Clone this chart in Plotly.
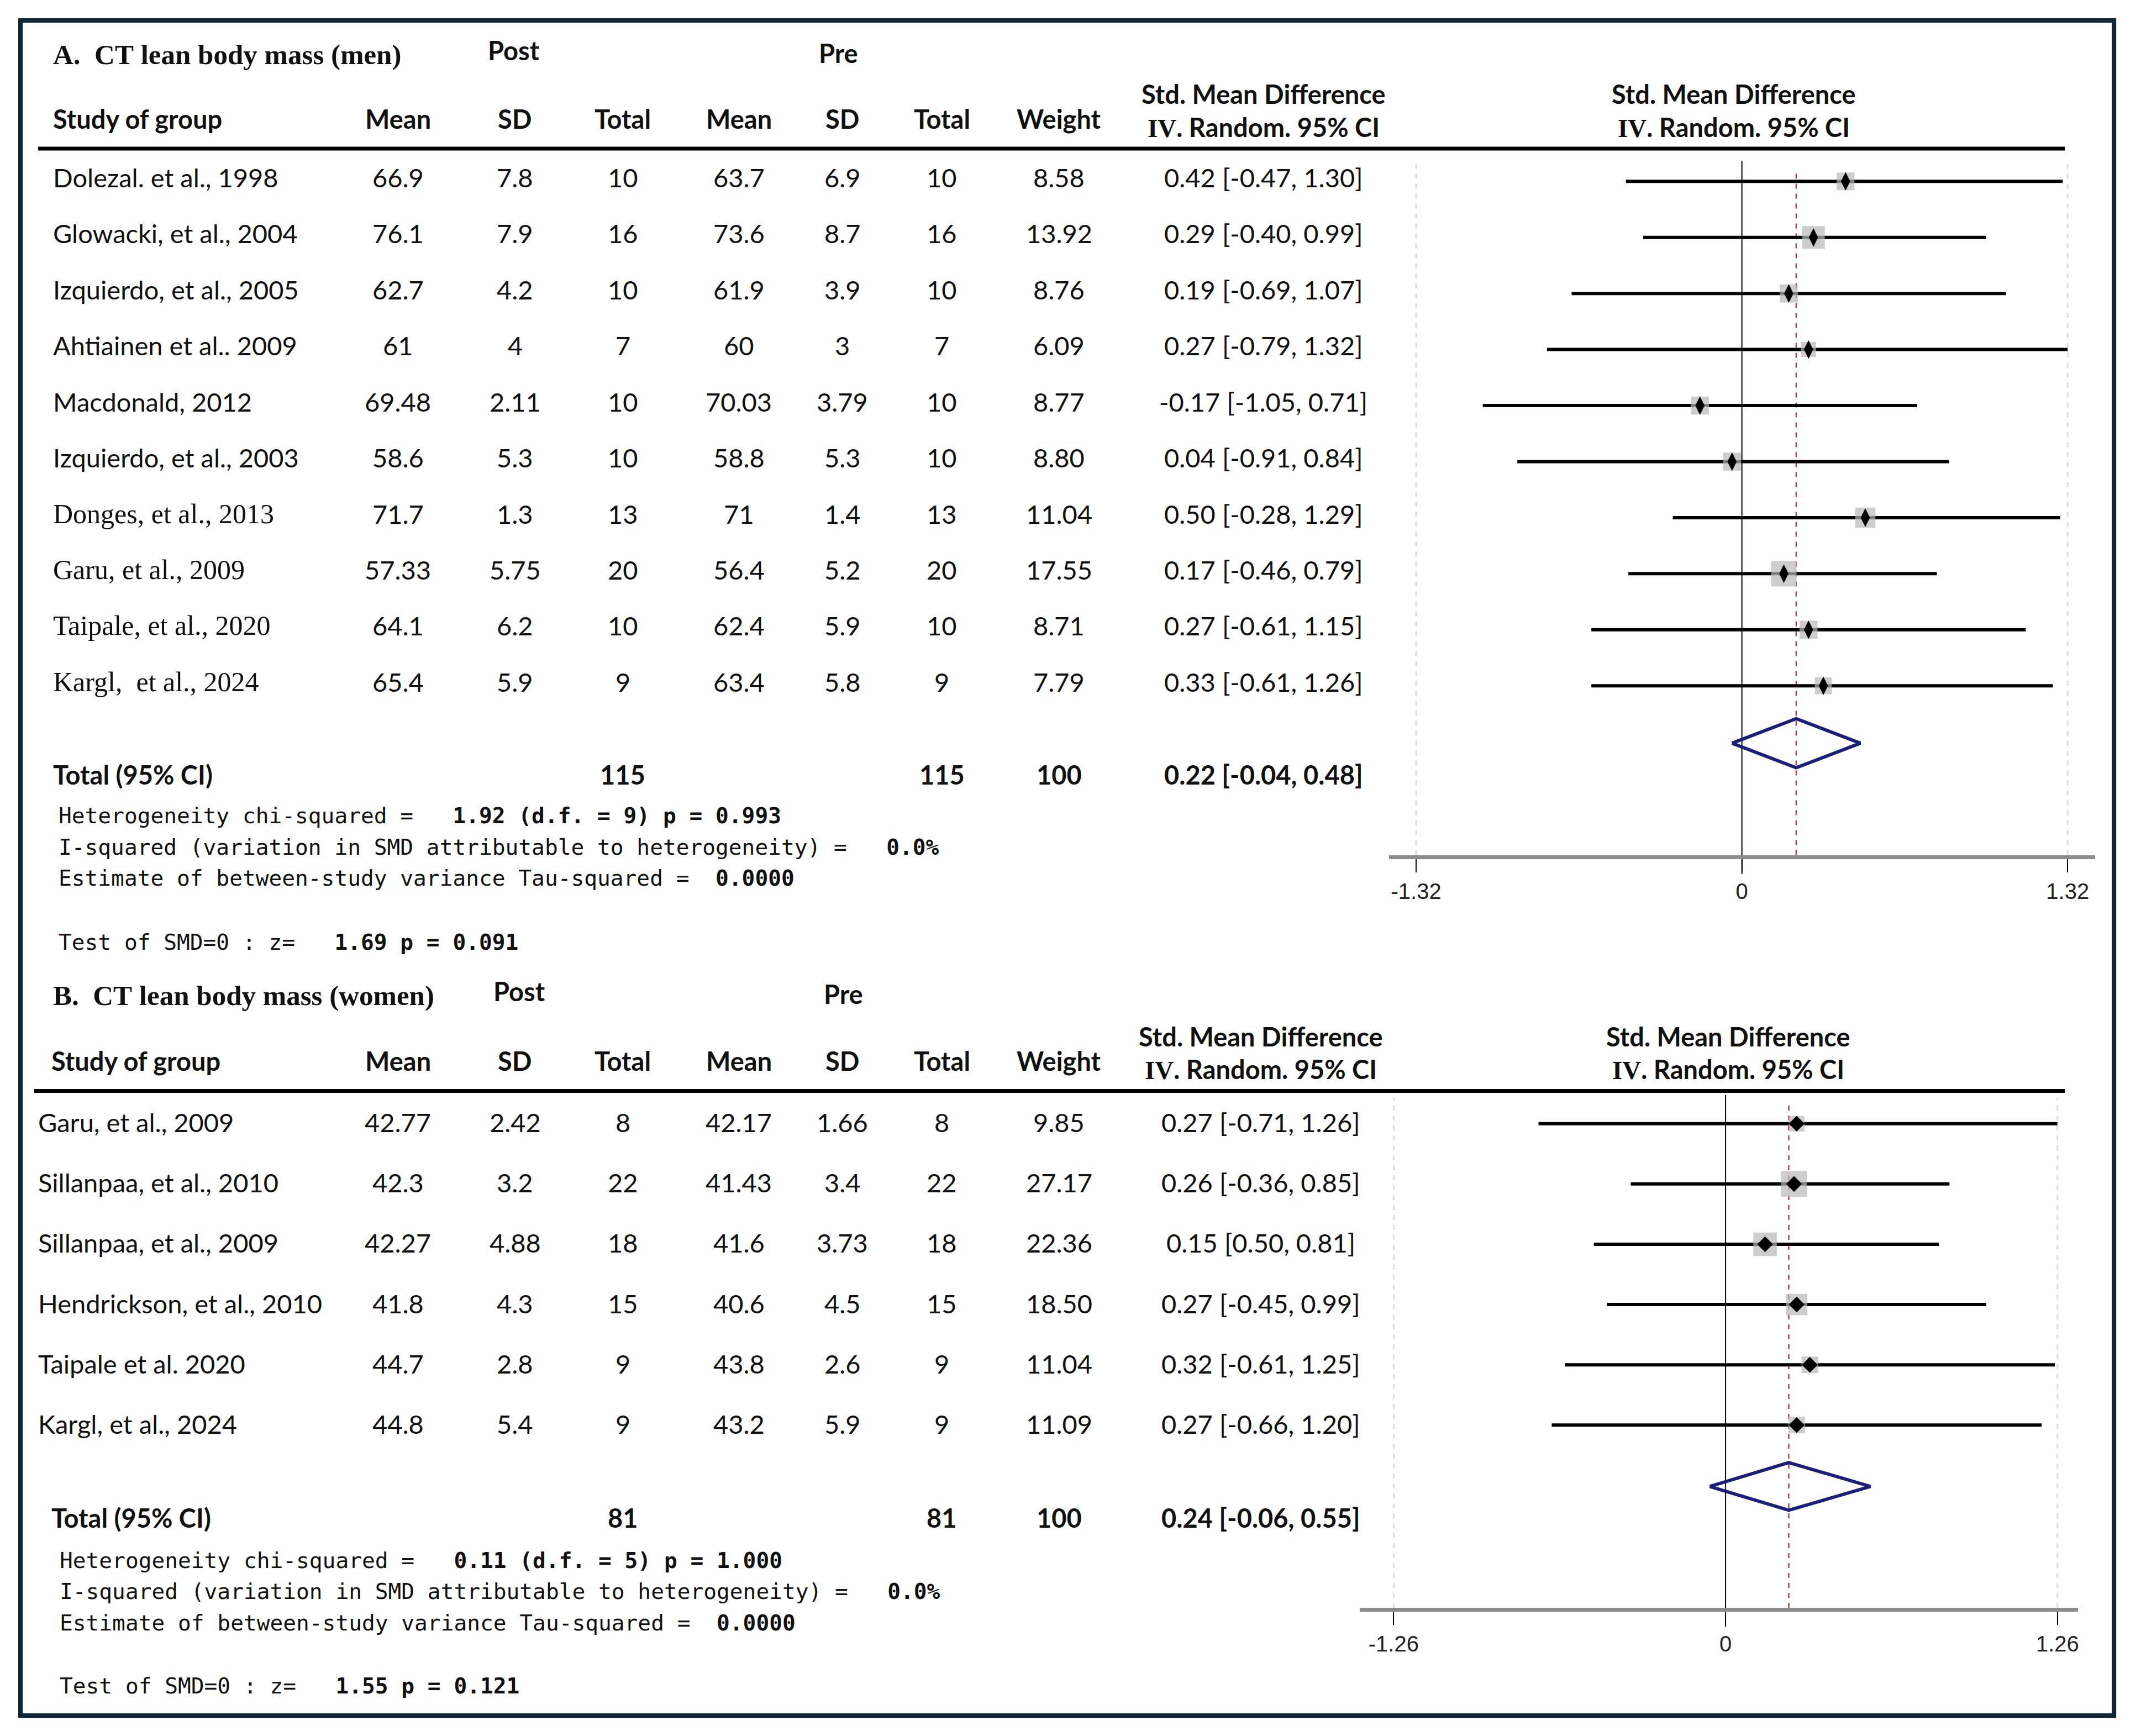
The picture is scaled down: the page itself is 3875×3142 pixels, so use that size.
import plotly.graph_objects as go
import math

# ---------------- data ----------------
names_a = ["Dolezal. et al., 1998", "Glowacki, et al., 2004", "Izquierdo, et al., 2005",
           "Ahtiainen et al.. 2009", "Macdonald, 2012", "Izquierdo, et al., 2003",
           "Donges, et al., 2013", "Garu, et al., 2009", "Taipale, et al., 2020",
           "Kargl,  et al., 2024"]
serif_rows_a = [6, 7, 8, 9]
post_mean_a = [66.9, 76.1, 62.7, 61, 69.48, 58.6, 71.7, 57.33, 64.1, 65.4]
post_sd_a = [7.8, 7.9, 4.2, 4, 2.11, 5.3, 1.3, 5.75, 6.2, 5.9]
post_n_a = [10, 16, 10, 7, 10, 10, 13, 20, 10, 9]
pre_mean_a = [63.7, 73.6, 61.9, 60, 70.03, 58.8, 71, 56.4, 62.4, 63.4]
pre_sd_a = [6.9, 8.7, 3.9, 3, 3.79, 5.3, 1.4, 5.2, 5.9, 5.8]
pre_n_a = [10, 16, 10, 7, 10, 10, 13, 20, 10, 9]
weight_a = [8.58, 13.92, 8.76, 6.09, 8.77, 8.80, 11.04, 17.55, 8.71, 7.79]
smd_a = [0.42, 0.29, 0.19, 0.27, -0.17, -0.04, 0.50, 0.17, 0.27, 0.33]
lo_a = [-0.47, -0.40, -0.69, -0.79, -1.05, -0.91, -0.28, -0.46, -0.61, -0.61]
hi_a = [1.30, 0.99, 1.07, 1.32, 0.71, 0.84, 1.29, 0.79, 1.15, 1.26]
label_override_a = {5: "0.04 [-0.91, 0.84]"}
total_a = {"n_post": 115, "n_pre": 115, "weight": 100, "smd": 0.22, "lo": -0.04, "hi": 0.48}
het_a = {"chi2": "1.92", "df": 9, "p": "0.993", "i2": "0.0%", "tau2": "0.0000", "z": "1.69", "pz": "0.091"}
xmax_a = 1.32

names_b = ["Garu, et al., 2009", "Sillanpaa, et al., 2010", "Sillanpaa, et al., 2009",
           "Hendrickson, et al., 2010", "Taipale et al. 2020", "Kargl, et al., 2024"]
post_mean_b = [42.77, 42.3, 42.27, 41.8, 44.7, 44.8]
post_sd_b = [2.42, 3.2, 4.88, 4.3, 2.8, 5.4]
post_n_b = [8, 22, 18, 15, 9, 9]
pre_mean_b = [42.17, 41.43, 41.6, 40.6, 43.8, 43.2]
pre_sd_b = [1.66, 3.4, 3.73, 4.5, 2.6, 5.9]
pre_n_b = [8, 22, 18, 15, 9, 9]
weight_b = [9.85, 27.17, 22.36, 18.50, 11.04, 11.09]
smd_b = [0.27, 0.26, 0.15, 0.27, 0.32, 0.27]
lo_b = [-0.71, -0.36, -0.50, -0.45, -0.61, -0.66]
hi_b = [1.26, 0.85, 0.81, 0.99, 1.25, 1.20]
label_override_b = {2: "0.15 [0.50, 0.81]"}
total_b = {"n_post": 81, "n_pre": 81, "weight": 100, "smd": 0.24, "lo": -0.06, "hi": 0.55}
het_b = {"chi2": "0.11", "df": 5, "p": "1.000", "i2": "0.0%", "tau2": "0.0000", "z": "1.55", "pz": "0.121"}
xmax_b = 1.26

# ---------------- layout helpers ----------------
OFF = 8                       # default page margin of the html body
W, H = 3875 - 2 * OFF, 3142 - 2 * OFF
S = 3875 / 1570.0             # real px per layout unit


def PX(xd):
    return (xd * S - OFF) / W


def PY(yd):
    return 1 - (yd * S - OFF) / H


SANS = "Lato"
SERIF = "Liberation Serif"
MONO = "DejaVu Sans Mono"
TICKF = "Liberation Sans"
FS = 47
FSERIF = 50
FTITLE = 51
FMONO = 39.5
INK = "#111111"

annotations = []
shapes = []


def txt(x, y, s, size=FS, family=SANS, anchor="center", xref="paper", yref="paper", color=INK):
    annotations.append(dict(x=x, y=y, xref=xref, yref=yref, text=s, showarrow=False,
                            xanchor=anchor, yanchor="middle",
                            font=dict(family=family, size=size, color=color)))


def fmt(v):
    return str(v)


def ci_label(m, l, h):
    return f"{m:.2f} [{l:.2f}, {h:.2f}]"


def nb(s):
    return s.replace(" ", "\u00a0")


fig = go.Figure()


def panel(k, cfg):
    xa = "x" if k == 1 else "x2"
    ya = "y" if k == 1 else "y2"
    names, serif_rows = cfg["names"], cfg["serif_rows"]
    row0, drow = cfg["row0"], cfg["drow"]
    tshift = cfg["text_shift"] / drow
    n = len(names)

    # titles
    txt(PX(38), PY(cfg["title_y"]), "<b>" + nb(cfg["title"]) + "</b>", size=FTITLE, family=SERIF, anchor="left")
    txt(PX(cfg["post_x"]), PY(cfg["title_y"] - 3), "<b>Post</b>")
    txt(PX(cfg["pre_x"]), PY(cfg["title_y"] - 1), "<b>Pre</b>")
    hy = cfg["head_y"]
    txt(PX(cfg["study_x"]), PY(hy), "<b>Study of group</b>", anchor="left")
    for xx, lab in zip(cfg["col_x"][:7], ["Mean", "SD", "Total", "Mean", "SD", "Total", "Weight"]):
        txt(PX(xx), PY(hy), "<b>" + lab + "</b>")
    iv = "<b><span style='font-family:Liberation Serif'>IV</span>. Random. 95% CI</b>"
    txt(PX(cfg["col_x"][7]), PY(hy - 18), "<b>Std. Mean Difference</b>")
    txt(PX(cfg["col_x"][7]), PY(hy + 6), iv)
    txt(PX(cfg["right_head_x"]), PY(hy - 18), "<b>Std. Mean Difference</b>")
    txt(PX(cfg["right_head_x"]), PY(hy + 6), iv)
    shapes.append(dict(type="line", xref="paper", yref="paper", x0=PX(cfg["line_x0"]), x1=PX(1515),
                       y0=PY(cfg["line_y"]), y1=PY(cfg["line_y"]), line=dict(color="#000000", width=7)))

    # rows
    for i in range(n):
        fam = SERIF if i in serif_rows else SANS
        fsz = FSERIF if i in serif_rows else FS
        ty = i - tshift
        txt(PX(cfg["name_x"]), ty, nb(names[i]), size=fsz, family=fam, anchor="left", yref=ya)
        vals = [fmt(cfg["post_mean"][i]), fmt(cfg["post_sd"][i]), fmt(cfg["post_n"][i]),
                fmt(cfg["pre_mean"][i]), fmt(cfg["pre_sd"][i]), fmt(cfg["pre_n"][i]),
                f"{cfg['weight'][i]:.2f}",
                cfg["override"].get(i, ci_label(cfg["smd"][i], cfg["lo"][i], cfg["hi"][i]))]
        for xx, v in zip(cfg["col_x"], vals):
            txt(PX(xx), ty, nb(v), yref=ya)

    # total row
    tot = cfg["total"]
    ty = (cfg["total_y"] - row0) / drow
    txt(PX(cfg["study_x"]), ty, "<b>Total (95% CI)</b>", anchor="left", yref=ya)
    txt(PX(cfg["col_x"][2]), ty, f"<b>{tot['n_post']}</b>", yref=ya)
    txt(PX(cfg["col_x"][5]), ty, f"<b>{tot['n_pre']}</b>", yref=ya)
    txt(PX(cfg["col_x"][6]), ty, f"<b>{tot['weight']}</b>", yref=ya)
    txt(PX(cfg["col_x"][7]), ty, "<b>" + nb(ci_label(tot["smd"], tot["lo"], tot["hi"])) + "</b>", yref=ya)

    # heterogeneity text
    h = cfg["het"]
    hx = PX(cfg["het_x"])
    l1 = nb("Heterogeneity chi-squared =   ") + "<b>" + nb(f"{h['chi2']} (d.f. = {h['df']}) p = {h['p']}") + "</b>"
    l2 = nb("I-squared (variation in SMD attributable to heterogeneity) =   ") + "<b>" + h["i2"] + "</b>"
    l3 = nb("Estimate of between-study variance Tau-squared =  ") + "<b>" + h["tau2"] + "</b>"
    l4 = nb("Test of SMD=0 : z=   ") + "<b>" + nb(f"{h['z']} p = {h['pz']}") + "</b>"
    for yy, s in zip(cfg["het_y"], [l1, l2, l3, l4]):
        txt(hx, PY(yy), s, size=FMONO, family=MONO, anchor="left", color="#111111")

    # forest plot
    xs, ys = [], []
    for i in range(n):
        xs += [cfg["lo"][i], cfg["hi"][i], None]
        ys += [i, i, None]
    fig.add_trace(go.Scatter(x=xs, y=ys, mode="lines", line=dict(color="#000000", width=6),
                             xaxis=xa, yaxis=ya, hoverinfo="skip", cliponaxis=False))
    fig.add_trace(go.Scatter(x=cfg["smd"], y=list(range(n)), mode="markers",
                             marker=dict(symbol="square", color="#b8b8b8",
                                         size=[cfg["box_k"] * math.sqrt(w) for w in cfg["weight"]],
                                         line=dict(width=0)),
                             xaxis=xa, yaxis=ya, cliponaxis=False))
    fig.add_trace(go.Scatter(x=cfg["smd"], y=list(range(n)), mode="markers",
                             marker=dict(symbol=cfg["dia_sym"], color="#000000", size=cfg["dia_size"],
                                         line=dict(width=0)),
                             xaxis=xa, yaxis=ya, cliponaxis=False))
    dy = (cfg["dia_y"] - row0) / drow
    hh = cfg["dia_half"] / drow
    fig.add_trace(go.Scatter(x=[tot["lo"], tot["smd"], tot["hi"], tot["smd"], tot["lo"]],
                             y=[dy, dy - hh, dy, dy + hh, dy], mode="lines",
                             line=dict(color="#1c1f78", width=6), xaxis=xa, yaxis=ya, cliponaxis=False))

    # reference lines
    xm = cfg["xmax"]
    top, bot = PY(cfg["ref_top"]), PY(cfg["axis_y"])
    for v in (-xm, xm):
        shapes.append(dict(type="line", xref=xa, yref="paper", x0=v, x1=v, y0=bot, y1=top,
                           line=dict(color="#dcdcdc", width=3, dash="dash"), layer="below"))
    shapes.append(dict(type="line", xref=xa, yref="paper", x0=0, x1=0, y0=PY(cfg["axis_y"] + 14), y1=PY(cfg["zero_top"]),
                       line=dict(color="#000000", width=2), layer="below"))
    shapes.append(dict(type="line", xref=xa, yref="paper", x0=tot["smd"], x1=tot["smd"], y0=bot, y1=PY(cfg["zero_top"] + 6),
                       line=dict(color="#b5404a", width=2.5, dash="dash"), layer="below"))

    # axes
    px_per = (cfg["tick_r"] - cfg["tick_l"]) / (2 * xm)
    zero = (cfg["tick_r"] + cfg["tick_l"]) / 2
    rng = [(cfg["dom_l"] - zero) / px_per, (cfg["dom_r"] - zero) / px_per]
    xaxis = dict(domain=[PX(cfg["dom_l"]), PX(cfg["dom_r"])], range=rng, anchor=ya,
                 tickvals=[-xm, 0, xm], ticktext=[f"-{xm:.2f}", "0", f"{xm:.2f}"],
                 showline=True, linecolor="#8c8c8c", linewidth=7, ticks="outside", ticklen=24,
                 tickwidth=2, tickcolor="#000000", showgrid=False, zeroline=False,
                 tickfont=dict(family=TICKF, size=40, color="#222222"), fixedrange=True)
    yaxis = dict(domain=[PY(cfg["axis_y"]), PY(cfg["dom_top"])],
                 range=[(cfg["axis_y"] - row0) / drow, (cfg["dom_top"] - row0) / drow],
                 visible=False, anchor=xa, fixedrange=True)
    return xaxis, yaxis


cfg_a = dict(names=names_a, serif_rows=serif_rows_a, row0=133, drow=41.1, text_shift=3,
             title="A.  CT lean body mass (men)", title_y=40, post_x=377, pre_x=615,
             head_y=87, study_x=38, name_x=38,
             col_x=[292, 378, 457, 542, 618, 691, 777, 927], right_head_x=1272,
             line_x0=28, line_y=109,
             post_mean=post_mean_a, post_sd=post_sd_a, post_n=post_n_a,
             pre_mean=pre_mean_a, pre_sd=pre_sd_a, pre_n=pre_n_a, weight=weight_a,
             smd=smd_a, lo=lo_a, hi=hi_a, override=label_override_a, total=total_a,
             total_y=568, het=het_a, het_x=42, het_y=[598, 621, 644, 691],
             box_k=11.0, dia_sym="diamond-tall", dia_size=24, dia_y=545, dia_half=18,
             xmax=xmax_a, ref_top=120, axis_y=627, zero_top=118,
             tick_l=1039, tick_r=1517, dom_l=1019, dom_r=1537, dom_top=110)

cfg_b = dict(names=names_b, serif_rows=[], row0=824, drow=44.2, text_shift=1,
             title="B.  CT lean body mass (women)", title_y=730, post_x=381, pre_x=619,
             head_y=778, study_x=37, name_x=27,
             col_x=[292, 378, 457, 542, 618, 691, 777, 925], right_head_x=1268,
             line_x0=25, line_y=800,
             post_mean=post_mean_b, post_sd=post_sd_b, post_n=post_n_b,
             pre_mean=pre_mean_b, pre_sd=pre_sd_b, pre_n=pre_n_b, weight=weight_b,
             smd=smd_b, lo=lo_b, hi=hi_b, override=label_override_b, total=total_b,
             total_y=1113, het=het_b, het_x=43, het_y=[1144, 1167, 1190, 1236],
             box_k=9.0, dia_sym="diamond", dia_size=22, dia_y=1090, dia_half=17.5,
             xmax=xmax_b, ref_top=805, axis_y=1179, zero_top=803,
             tick_l=1022.5, tick_r=1509.5, dom_l=997.5, dom_r=1524.5, dom_top=802)

xa1, ya1 = panel(1, cfg_a)
xa2, ya2 = panel(2, cfg_b)

# outer frame
shapes.append(dict(type="rect", xref="paper", yref="paper", x0=PX(15), x1=PX(1551), y0=PY(1258), y1=PY(15),
                   line=dict(color="#0e2838", width=8), fillcolor="rgba(0,0,0,0)"))

fig.update_layout(width=W, height=H, margin=dict(l=0, r=0, t=0, b=0),
                  paper_bgcolor="white", plot_bgcolor="white", showlegend=False,
                  xaxis=xa1, yaxis=ya1, xaxis2=xa2, yaxis2=ya2,
                  annotations=annotations, shapes=shapes)

fig.write_html("out.html")
